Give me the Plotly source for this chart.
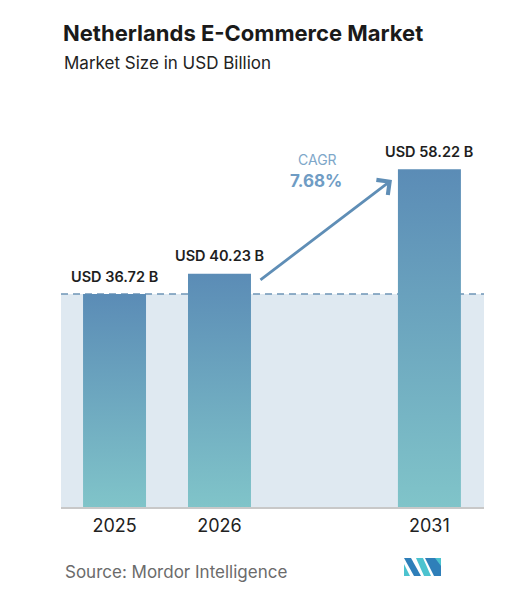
import plotly.graph_objects as go

# ---- data ----
years = ["2025", "2026", "2031"]
values = [36.72, 40.23, 58.22]
value_labels = ["USD 36.72 B", "USD 40.23 B", "USD 58.22 B"]
cagr_title = "CAGR"
cagr_value = "7.68%"
title_text = "Netherlands E-Commerce Market"
subtitle_text = "Market Size in USD Billion"
source_text = "Source: Mordor Intelligence"

# ---- layout helpers (not data) ----
slots = [0, 1, 3]          # horizontal slot of each year on the axis
half_w = 0.3               # half bar width in slot units
OFF = 8                    # page body margin offset
W, H = 523 - OFF, 591 - OFF
L, R, T, B = 61 - OFF, 39, 140 - OFF, 84
X_RANGE = [-0.51, 3.52]
Y_RANGE = [0, 63.28]
FONT = "Inter"

def px_x(p):
    return (p - OFF - L) / (W - L - R)

def px_y(p):
    return (H - B - (p - OFF)) / (H - T - B)

fig = go.Figure()

# bars drawn as gradient-filled rectangles in data coordinates
for s, v, yr in zip(slots, values, years):
    fig.add_trace(go.Scatter(
        x=[s - half_w, s + half_w, s + half_w, s - half_w, s - half_w],
        y=[0, 0, v, v, 0],
        mode="lines", fill="toself",
        line=dict(width=0, color="#5b8cb6"),
        fillgradient=dict(type="vertical",
                          colorscale=[[0, "#80c4c9"], [1, "#5b8cb6"]]),
        hoverinfo="skip", showlegend=False, name=yr,
    ))

shapes = [
    dict(type="rect", xref="x", yref="y", x0=X_RANGE[0], x1=X_RANGE[1],
         y0=0, y1=values[0], fillcolor="#dfe9f1", line=dict(width=0),
         layer="below"),
    dict(type="line", xref="x", yref="y", x0=X_RANGE[0], x1=X_RANGE[1],
         y0=values[0], y1=values[0],
         line=dict(color="#6f95b6", width=1.5, dash="7px,5px"), layer="below"),
]

def poly(pts, color):
    d = "M " + " L ".join(f"{px_x(a):.5f},{px_y(b):.5f}" for a, b in pts) + " Z"
    return dict(type="path", xref="paper", yref="paper", path=d,
                fillcolor=color, line=dict(width=0))

shapes += [
    poly([(404, 564), (404, 576), (410, 576)], "#4cc3cf"),
    poly([(404, 558), (411, 558), (421, 576), (414, 576)], "#2f7fb9"),
    poly([(416, 558), (423, 558), (431, 576), (424, 576)], "#4cc3cf"),
    poly([(425, 558), (441, 558), (441, 576), (434, 576)], "#2f7fb9"),
    poly([(435, 558), (441, 558), (441, 566)], "#4cc3cf"),
]

annotations = []
for s, v, lab in zip(slots, values, value_labels):
    annotations.append(dict(
        x=s, y=v, xref="x", yref="y", text=lab, showarrow=False,
        yanchor="middle", yshift=18,
        font=dict(family=FONT, size=14.5, color="#1e1e1e", weight=600)))

annotations.append(dict(
    x=2.643, y=56.4, ax=1.376, ay=38.97, xref="x", yref="y",
    axref="x", ayref="y", text="", showarrow=True,
    arrowhead=4, arrowsize=1.3, arrowwidth=2.8, arrowcolor="#5f8eb6"))
annotations.append(dict(
    x=1.93, y=60.0, xref="x", yref="y", text=cagr_title, showarrow=False,
    font=dict(family=FONT, size=14, color="#7ea7c9")))
annotations.append(dict(
    x=1.92, y=56.2, xref="x", yref="y", text=cagr_value, showarrow=False,
    font=dict(family=FONT, size=17, color="#6f9cc4", weight=700)))

annotations.append(dict(
    x=px_x(62), y=px_y(63), xref="paper", yref="paper", text=subtitle_text,
    showarrow=False, xanchor="left", yanchor="middle",
    font=dict(family=FONT, size=17, color="#222222")))
annotations.append(dict(
    x=px_x(63), y=px_y(572), xref="paper", yref="paper", text=source_text,
    showarrow=False, xanchor="left", yanchor="middle",
    font=dict(family=FONT, size=17, color="#6b6b6b")))

fig.update_layout(
    width=W, height=H,
    margin=dict(l=L, r=R, t=T, b=B, pad=0),
    paper_bgcolor="white", plot_bgcolor="white",
    title=dict(text=f"<b>{title_text}</b>", xref="container", yref="container",
               x=(63 - OFF) / W, y=1 - (33 - OFF) / H,
               xanchor="left", yanchor="middle",
               font=dict(family=FONT, size=22, color="#1a1a1a")),
    xaxis=dict(range=X_RANGE, tickvals=slots, ticktext=years,
               showgrid=False, zeroline=False, showline=True,
               linecolor="#c8c8c8", linewidth=2,
               ticks="outside", ticklen=1, tickcolor="rgba(0,0,0,0)",
               tickfont=dict(family=FONT, size=18, color="#222222"),
               fixedrange=True),
    yaxis=dict(range=Y_RANGE, visible=False, showgrid=False,
               zeroline=False, fixedrange=True),
    shapes=shapes, annotations=annotations, showlegend=False,
)

fig.write_html("out.html")
